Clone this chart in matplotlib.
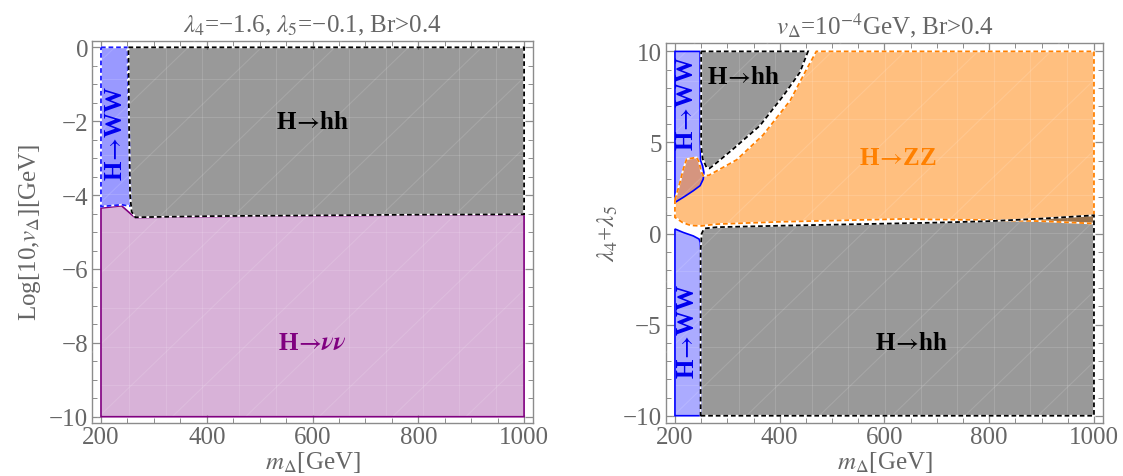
import matplotlib
matplotlib.use("Agg")
import matplotlib.pyplot as plt
from matplotlib.patches import Polygon
from matplotlib.ticker import MultipleLocator

plt.rcParams["font.family"] = ["Liberation Serif", "DejaVu Serif"]
plt.rcParams["mathtext.fontset"] = "stix"

# --- left panel: lambda4=-1.6, lambda5=-0.1, regions in (m_Delta, log10 v_Delta)
ww_l_x = [200, 250, 251, 253, 255, 256, 239, 200]
ww_l_y = [0, 0, -1.0, -2.0, -3.5, -4.3, -4.26, -4.31]
hh_l_x = [252, 1000, 1000, 800, 600, 400, 265, 258, 255, 253, 252]
hh_l_y = [0, 0, -4.52, -4.53, -4.55, -4.57, -4.6, -4.45, -4.0, -2.0, 0]
nn_l_x = [200, 239, 258, 265, 400, 600, 800, 1000, 1000, 200]
nn_l_y = [-4.35, -4.29, -4.53, -4.61, -4.58, -4.56, -4.54, -4.53, -10, -10]

# --- right panel: v_Delta=1e-4 GeV, regions in (m_Delta, lambda4+lambda5)
ww_top_x = [200, 248, 248, 249, 252.8, 255.3, 254, 248, 235, 216, 200]
ww_top_y = [10, 10, 5.2, 4.0, 3.72, 3.36, 2.99, 2.63, 2.35, 1.99, 1.71]
ww_bot_x = [200, 249, 249, 248.5, 246, 235, 216, 200]
ww_bot_y = [-10, -10, -0.9, -0.5, -0.3, -0.13, 0.06, 0.25]
hh_top_x = [250, 454, 438.5, 406.7, 362, 311, 278, 266, 260, 253, 250]
hh_top_y = [10, 10, 8.85, 7.56, 5.92, 4.64, 3.85, 3.58, 3.65, 4.1, 4.8]
hh_bot_x = [249, 1000, 1000, 900, 800, 700, 630, 400, 280, 256, 251, 250, 249]
hh_bot_y = [-10, -10, 1.0, 0.82, 0.68, 0.6, 0.56, 0.43, 0.35, 0.28, 0.0, -0.5, -0.9]
zz_x = [200, 209.5, 215.9, 222.3, 241.3, 246.4, 249.6, 254, 265, 318, 368, 420, 451, 470,
        1000, 1000, 900, 800, 630, 405, 280, 250, 230, 215, 200]
zz_y = [1.85, 2.8, 3.54, 4.09, 4.18, 3.91, 3.45, 3.17, 3.2, 4.05, 5.4, 7.3, 9.0, 10,
        10, 0.55, 0.68, 0.74, 0.8, 0.65, 0.52, 0.42, 0.45, 0.6, 0.89]

GRAY_TXT = "#666666"
FRAME = "#8c8c8c"
FS = 18
ARROW = r"$\!\rightarrow\!$"


def region(ax, xs, ys, color, alpha, edge, dashed, z):
    pts = list(zip(xs, ys))
    ax.add_patch(Polygon(pts, closed=True, facecolor=color, alpha=alpha,
                         edgecolor="none", zorder=z))
    if dashed:
        ax.add_patch(Polygon(pts, closed=True, fill=False, edgecolor="white",
                             lw=1.3, zorder=z + 10))
        ax.add_patch(Polygon(pts, closed=True, fill=False, edgecolor=edge,
                             lw=1.3, linestyle=(0, (2.6, 1.6)), zorder=z + 11))
    else:
        ax.add_patch(Polygon(pts, closed=True, fill=False, edgecolor=edge,
                             lw=1.2, zorder=z + 10))


def mesh(ax):
    # faint triangulation lines left by the region sampling
    kw = dict(transform=ax.transAxes, color="white", alpha=0.13, lw=0.8, zorder=8)
    for i in range(1, 12):
        ax.plot([i / 12, i / 12], [0.02, 0.98], **kw)
    for j in range(1, 10):
        ax.plot([0.02, 0.98], [j / 10, j / 10], **kw)
    for k in range(-8, 12):
        x0 = k / 6
        ax.plot([x0, x0 + 0.9], [0, 1], clip_on=True, **kw)


def style(ax, xlim, ylim, ymaj, ymin):
    ax.set_xlim(*xlim)
    ax.set_ylim(*ylim)
    ax.xaxis.set_major_locator(MultipleLocator(200))
    ax.xaxis.set_minor_locator(MultipleLocator(50))
    ax.yaxis.set_major_locator(MultipleLocator(ymaj))
    ax.yaxis.set_minor_locator(MultipleLocator(ymin))
    ax.tick_params(which="both", direction="in", top=True, right=True,
                   colors=FRAME, labelcolor=GRAY_TXT, labelsize=FS)
    ax.tick_params(which="major", length=6, width=0.9)
    ax.tick_params(which="minor", length=3.5, width=0.7)
    ax.tick_params(axis="x", pad=2)
    ax.tick_params(axis="y", pad=3)
    for s in ax.spines.values():
        s.set_color(FRAME)
        s.set_linewidth(1.0)


def label(ax, x, y, text, color, rot=0, size=18):
    ax.text(x, y, text, rotation=rot, color=color, fontsize=size,
            fontweight="bold", ha="center", va="center", zorder=30)


fig = plt.figure(figsize=(11.23, 4.77), dpi=100)

# left panel
ax1 = fig.add_axes([0.0822, 0.1111, 0.3922, 0.8015])
region(ax1, nn_l_x, nn_l_y, (0.5, 0, 0.5), 0.3, "#800080", False, 1)
region(ax1, ww_l_x, ww_l_y, (0, 0, 1), 0.4, "#1a1aff", True, 2)
region(ax1, hh_l_x, hh_l_y, "black", 0.4, "black", True, 3)
mesh(ax1)
style(ax1, (183.6, 1016.4), (-10.17, 0.18), 2, 0.5)
label(ax1, 228, -2.3, "H" + ARROW + "WW", "#0000ee", rot=90)
label(ax1, 600, -2.0, "H" + ARROW + "hh", "black")
label(ax1, 600, -8.0, r"H$\!\rightarrow\!\mathbfit{\nu\nu}$", "#800080")
ax1.set_title(r"$\lambda_4$=−1.6, $\lambda_5$=−0.1, Br>0.4", color=GRAY_TXT,
              fontsize=FS, pad=7)
ax1.set_xlabel(r"$m_\Delta$[GeV]", color=GRAY_TXT, fontsize=FS, labelpad=1)
ax1.set_ylabel(r"Log[10,$v_\Delta$][GeV]", color=GRAY_TXT, fontsize=FS, labelpad=4)

# right panel
ax2 = fig.add_axes([0.5930, 0.1111, 0.3894, 0.7966])
region(ax2, ww_top_x, ww_top_y, (0, 0, 1), 0.33, "#0000ff", False, 1)
region(ax2, ww_bot_x, ww_bot_y, (0, 0, 1), 0.33, "#0000ff", False, 1)
region(ax2, zz_x, zz_y, (1, 0.5, 0), 0.5, "#ff8000", True, 2)
region(ax2, hh_top_x, hh_top_y, "black", 0.4, "black", True, 3)
region(ax2, hh_bot_x, hh_bot_y, "black", 0.4, "black", True, 3)
mesh(ax2)
style(ax2, (182.8, 1017.7), (-10.4, 10.46), 5, 1)
label(ax2, 223, 7.2, "H" + ARROW + "WW", "#0000ee", rot=90)
label(ax2, 224, -5.3, "H" + ARROW + "WW", "#0000ee", rot=90)
label(ax2, 331, 8.6, "H" + ARROW + "hh", "black")
label(ax2, 625, 4.15, "H" + ARROW + "ZZ", "#ff8000")
label(ax2, 652, -6.0, "H" + ARROW + "hh", "black")
ax2.set_title(r"$v_\Delta$=10$^{-4}$GeV, Br>0.4", color=GRAY_TXT, fontsize=FS, pad=7)
ax2.set_xlabel(r"$m_\Delta$[GeV]", color=GRAY_TXT, fontsize=FS, labelpad=1)
ax2.set_ylabel(r"$\lambda_4$+$\lambda_5$", color=GRAY_TXT, fontsize=FS, labelpad=2)

fig.savefig("out.png", dpi=100)
